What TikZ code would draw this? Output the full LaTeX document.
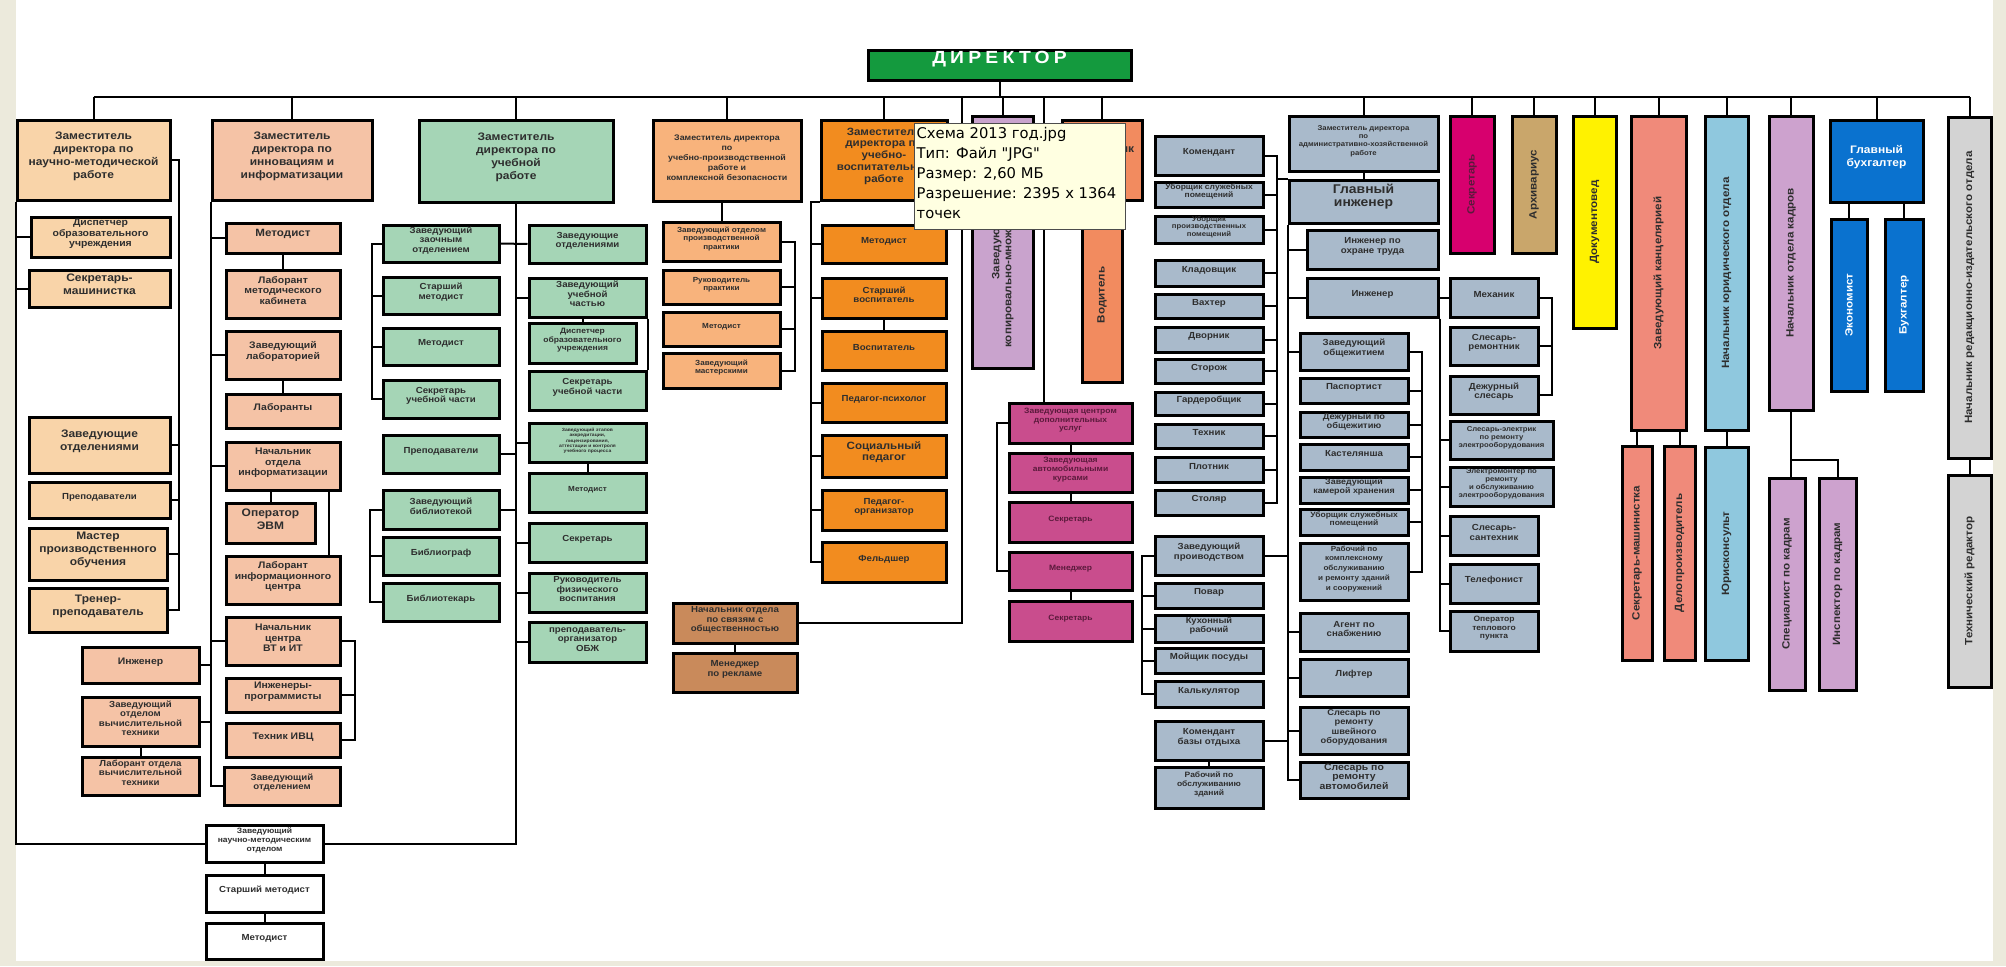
\documentclass[tikz,border=0pt]{standalone}
\usepackage{fontspec}
\setmainfont{Liberation Sans}[FakeStretch=1.1]
\newfontfamily\tipfont{DejaVu Sans}
\usetikzlibrary{fit}

\definecolor{frame}{HTML}{ECEADC}
\definecolor{ink}{HTML}{2E2E2E}
\definecolor{plum}{HTML}{5B1A3C}
\definecolor{dirgreen}{HTML}{149A3E}
\definecolor{apricot}{HTML}{F9D4A9}
\definecolor{peach}{HTML}{F5C3A6}
\definecolor{mint}{HTML}{A5D5B6}
\definecolor{tangerine}{HTML}{F8B37C}
\definecolor{vosporange}{HTML}{F28C1F}
\definecolor{prbrown}{HTML}{C98A5B}
\definecolor{lilac}{HTML}{C9A3CD}
\definecolor{coral}{HTML}{F28B5F}
\definecolor{berry}{HTML}{C94D8D}
\definecolor{steel}{HTML}{A9BACB}
\definecolor{crimson}{HTML}{D7006E}
\definecolor{khaki}{HTML}{C9A66B}
\definecolor{lemon}{HTML}{FFF200}
\definecolor{salmonred}{HTML}{F08A7A}
\definecolor{sky}{HTML}{8FC8DE}
\definecolor{orchid}{HTML}{CDA2CE}
\definecolor{azure}{HTML}{0A72CF}
\definecolor{silver}{HTML}{D3D3D3}
\definecolor{tipfill}{HTML}{FFFFE1}

\tikzset{
bx/.style={draw=black, line width=1.5mm, inner sep=0pt, align=center, text=ink},
ln/.style={line width=1mm},
txtL/.style={font=\fontsize{15.5}{18.5}\selectfont\bfseries},
txtM/.style={font=\fontsize{13.5}{15}\selectfont\bfseries},
txtS/.style={font=\fontsize{12.5}{13.5}\selectfont\bfseries},
txtT/.style={font=\fontsize{10.5}{12}\selectfont\bfseries},
txtX/.style={font=\fontsize{6.5}{7.8}\selectfont\bfseries},
txtB/.style={font=\fontsize{11}{12.5}\selectfont\bfseries},
vlab/.style={rotate=90, font=\fontsize{15}{17}\selectfont\bfseries, text=ink},
tipbox/.style={draw=black!70, line width=0.5mm, fill=tipfill, inner sep=0pt},
tiptext/.style={anchor=north west, inner sep=0pt, align=left, text=black, font=\tipfont\fontsize{21}{28.5}\selectfont}
}

\begin{document}
\begin{tikzpicture}[x=0.5mm,y=-0.5mm]
\useasboundingbox (0,0) rectangle (2006,966);
\fill[frame] (0,0) rectangle (2006,966);
\fill[white] (16,0) rectangle (1993,961);

\node[bx, fill=dirgreen, text=white, fit={(868,50)(1131,80)}, font=\fontsize{25}{27}\selectfont\bfseries\addfontfeatures{LetterSpace=24}] (dir) {ДИРЕКТОР};

% nauchno-metodicheskaya
\node[bx, fill=apricot, txtL, fit={(17,120)(170,200)}] (zNM) {Заместитель\\директора по\\научно-методической\\работе};
\node[bx, fill=apricot, txtM, fit={(31,217)(170,257)}] (dispA) {Диспетчер\\образовательного\\учреждения};
\node[bx, fill=apricot, txtL, fit={(29,270)(170,307)}] (sekrMash) {Секретарь-\\машинистка};
\node[bx, fill=apricot, txtL, fit={(29,417)(170,473)}] (zavOtdA) {Заведующие\\отделениями};
\node[bx, fill=apricot, txtS, fit={(29,482)(170,518)}] (prepA) {Преподаватели};
\node[bx, fill=apricot, txtL, fit={(29,528)(167,580)}] (masterA) {Мастер\\производственного\\обучения};
\node[bx, fill=apricot, txtL, fit={(29,588)(167,632)}] (trenerA) {Тренер-\\преподаватель};

% innovacii
\node[bx, fill=peach, txtL, fit={(212,120)(372,200)}] (zIN) {Заместитель\\директора по\\инновациям и\\информатизации};
\node[bx, fill=peach, font=\fontsize{15}{16}\selectfont\bfseries, fit={(226,223)(340,253)}] (metB) {Методист};
\node[bx, fill=peach, txtM, fit={(226,270)(340,318)}] (labMK) {Лаборант\\методического\\кабинета};
\node[bx, fill=peach, txtM, fit={(226,331)(340,379)}] (zavLab) {Заведующий\\лабораторией};
\node[bx, fill=peach, txtM, fit={(226,394)(340,428)}] (labs) {Лаборанты};
\node[bx, fill=peach, txtM, fit={(226,442)(340,490)}] (nachInf) {Начальник\\отдела\\информатизации};
\node[bx, fill=peach, txtL, fit={(226,503)(315,543)}] (operEVM) {Оператор\\ЭВМ};
\node[bx, fill=peach, txtM, fit={(226,556)(340,604)}] (labIC) {Лаборант\\информационного\\центра};
\node[bx, fill=peach, txtM, fit={(226,617)(340,665)}] (nachVT) {Начальник\\центра\\ВТ и ИТ};
\node[bx, fill=peach, txtM, fit={(226,678)(340,712)}] (ingProg) {Инженеры-\\программисты};
\node[bx, fill=peach, txtM, fit={(226,723)(340,757)}] (tehIVC) {Техник ИВЦ};
\node[bx, fill=peach, txtS, fit={(224,767)(340,805)}] (zavOtdB) {Заведующий\\отделением};
\node[bx, fill=peach, txtM, fit={(82,647)(199,683)}] (ingB) {Инженер};
\node[bx, fill=peach, txtS, fit={(82,697)(199,746)}] (zavVT) {Заведующий\\отделом\\вычислительной\\техники};
\node[bx, fill=peach, txtS, fit={(82,757)(199,795)}] (labVT) {Лаборант отдела\\вычислительной\\техники};
\node[bx, fill=white, txtB, fit={(206,825)(323,862)}] (zavNMO) {Заведующий\\научно-методическим\\отделом};
\node[bx, fill=white, txtS, fit={(206,875)(323,912)}] (stMetW) {Старший методист};
\node[bx, fill=white, txtS, fit={(206,923)(323,959)}] (metW) {Методист};

% uchebnaya rabota
\node[bx, fill=mint, txtL, fit={(419,120)(613,202)}] (zUR) {Заместитель\\директора по\\учебной\\работе};
\node[bx, fill=mint, txtS, fit={(383,225)(499,262)}] (zaoch) {Заведующий\\заочным\\отделением};
\node[bx, fill=mint, txtS, fit={(383,277)(499,314)}] (stMetC) {Старший\\методист};
\node[bx, fill=mint, txtS, fit={(383,328)(499,365)}] (metC) {Методист};
\node[bx, fill=mint, txtS, fit={(383,380)(499,418)}] (sekrUchL) {Секретарь\\учебной части};
\node[bx, fill=mint, txtS, fit={(383,435)(499,473)}] (prepC) {Преподаватели};
\node[bx, fill=mint, txtS, fit={(383,490)(499,529)}] (zavBib) {Заведующий\\библиотекой};
\node[bx, fill=mint, txtS, fit={(383,537)(499,575)}] (bibliograf) {Библиограф};
\node[bx, fill=mint, txtS, fit={(383,583)(499,621)}] (bibliotekar) {Библиотекарь};
\node[bx, fill=mint, txtS, fit={(529,225)(646,263)}] (zavOtdC) {Заведующие\\отделениями};
\node[bx, fill=mint, txtS, fit={(529,278)(646,317)}] (zavUch) {Заведующий\\учебной\\частью};
\node[bx, fill=mint, font=\fontsize{11}{12}\selectfont\bfseries, fit={(529,323)(636,363)}] (dispC) {Диспетчер\\образовательного\\учреждения};
\node[bx, fill=mint, txtS, fit={(529,371)(646,410)}] (sekrUchR) {Секретарь\\учебной части};
\node[bx, fill=mint, txtX, fit={(529,423)(646,462)}] (zavEtap) {Заведующий этапов\\аккредитации,\\лицензирования,\\аттестации и контроля\\учебного процесса};
\node[bx, fill=mint, txtT, fit={(529,473)(646,512)}] (metC2) {Методист};
\node[bx, fill=mint, txtS, fit={(529,523)(646,562)}] (sekrC) {Секретарь};
\node[bx, fill=mint, txtS, fit={(529,573)(646,612)}] (rukFiz) {Руководитель\\физического\\воспитания};
\node[bx, fill=mint, txtS, fit={(529,622)(646,662)}] (prepOBZ) {преподаватель-\\организатор\\ОБЖ};

% uchebno-proizvodstvennaya
\node[bx, fill=tangerine, font=\fontsize{11.5}{14.5}\selectfont\bfseries, fit={(653,120)(801,201)}] (zUP) {Заместитель директора\\по\\учебно-производственной\\работе и\\комплексной безопасности};
\node[bx, fill=tangerine, txtT, fit={(663,222)(780,261)}] (zavPP) {Заведующий отделом\\производственной\\практики};
\node[bx, fill=tangerine, txtT, fit={(663,270)(780,304)}] (rukPr) {Руководитель\\практики};
\node[bx, fill=tangerine, txtT, fit={(663,312)(780,346)}] (metD) {Методист};
\node[bx, fill=tangerine, txtT, fit={(663,353)(780,388)}] (zavMast) {Заведующий\\мастерскими};

% uchebno-vospitatelnaya
\node[bx, fill=vosporange, font=\fontsize{15}{17}\selectfont\bfseries, fit={(821,120)(947,200)}] (zUV) {Заместитель\\директора по\\учебно-\\воспитательной\\работе};
\node[bx, fill=vosporange, txtS, fit={(822,225)(946,263)}] (metE) {Методист};
\node[bx, fill=vosporange, txtS, fit={(822,278)(946,318)}] (stVosp) {Старший\\воспитатель};
\node[bx, fill=vosporange, txtS, fit={(822,331)(946,370)}] (vosp) {Воспитатель};
\node[bx, fill=vosporange, txtS, fit={(822,383)(946,422)}] (pedPsy) {Педагог-психолог};
\node[bx, fill=vosporange, font=\fontsize{15}{16.5}\selectfont\bfseries, fit={(822,435)(946,477)}] (socPed) {Социальный\\педагог};
\node[bx, fill=vosporange, txtS, fit={(822,490)(946,530)}] (pedOrg) {Педагог-\\организатор};
\node[bx, fill=vosporange, txtS, fit={(822,542)(946,582)}] (feld) {Фельдшер};
\node[bx, fill=prbrown, txtS, fit={(673,603)(797,643)}] (nachPR) {Начальник отдела\\по связям с\\общественностью};
\node[bx, fill=prbrown, txtS, fit={(673,653)(797,692)}] (menRek) {Менеджер\\по рекламе};

% kopirovalnoe, voditel, uslugi
\node[bx, fill=lilac, fit={(972,116)(1033,368)}, label={[vlab, align=center]center:Заведующий\\копировально-множительным бюро}] (zavKop) {};
\node[bx, fill=coral, fit={(1062,120)(1142,200)}, txtL] (topOr) {Начальник\\гаража};
\node[bx, fill=coral, fit={(1082,208)(1122,382)}, label={[vlab]center:Водитель}] (vod) {};
\node[bx, fill=berry, text=plum, txtB, fit={(1009,403)(1132,443)}] (mg1) {Заведующая центром\\дополнительных\\услуг};
\node[bx, fill=berry, text=plum, txtB, fit={(1009,453)(1132,492)}] (mg2) {Заведующая\\автомобильными\\курсами};
\node[bx, fill=berry, text=plum, txtB, fit={(1009,502)(1132,542)}] (mg3) {Секретарь};
\node[bx, fill=berry, text=plum, txtB, fit={(1009,552)(1132,590)}] (mg4) {Менеджер};
\node[bx, fill=berry, text=plum, txtB, fit={(1009,601)(1132,641)}] (mg5) {Секретарь};

% hozyaistvennaya chast
\node[bx, fill=steel, txtS, fit={(1155,136)(1263,175)}] (kom) {Комендант};
\node[bx, fill=steel, font=\fontsize{11}{11.5}\selectfont\bfseries, fit={(1155,182)(1263,207)}] (ubS) {Уборщик служебных\\помещений};
\node[bx, fill=steel, font=\fontsize{10}{10.5}\selectfont\bfseries, fit={(1155,216)(1263,243)}] (ubP) {Уборщик\\производственных\\помещений};
\node[bx, fill=steel, txtS, fit={(1155,260)(1263,286)}] (klad) {Кладовщик};
\node[bx, fill=steel, txtS, fit={(1155,294)(1263,318)}] (vaht) {Вахтер};
\node[bx, fill=steel, txtS, fit={(1155,327)(1263,352)}] (dvor) {Дворник};
\node[bx, fill=steel, txtS, fit={(1155,359)(1263,383)}] (stor) {Сторож};
\node[bx, fill=steel, txtS, fit={(1155,392)(1263,415)}] (gard) {Гардеробщик};
\node[bx, fill=steel, txtS, fit={(1155,424)(1263,448)}] (teh) {Техник};
\node[bx, fill=steel, txtS, fit={(1155,457)(1263,482)}] (plot) {Плотник};
\node[bx, fill=steel, txtS, fit={(1155,490)(1263,515)}] (stol) {Столяр};
\node[bx, fill=steel, txtS, fit={(1155,536)(1263,575)}] (zavPr) {Заведующий\\проиводством};
\node[bx, fill=steel, txtS, fit={(1155,583)(1263,608)}] (povar) {Повар};
\node[bx, fill=steel, font=\fontsize{12}{12.5}\selectfont\bfseries, fit={(1155,615)(1263,642)}] (kuh) {Кухонный\\рабочий};
\node[bx, fill=steel, txtS, fit={(1155,648)(1263,673)}] (moy) {Мойщик посуды};
\node[bx, fill=steel, txtS, fit={(1155,681)(1263,707)}] (kalk) {Калькулятор};
\node[bx, fill=steel, txtS, fit={(1155,721)(1263,760)}] (komBO) {Комендант\\базы отдыха};
\node[bx, fill=steel, txtB, fit={(1155,767)(1263,808)}] (rabBO) {Рабочий по\\обслуживанию\\зданий};
\node[bx, fill=steel, font=\fontsize{10}{12}\selectfont\bfseries, fit={(1289,116)(1438,171)}] (zAHR) {Заместитель директора\\по\\административно-хозяйственной\\работе};
\node[bx, fill=steel, font=\fontsize{18}{19}\selectfont\bfseries, fit={(1289,180)(1438,223)}] (glIng) {Главный\\инженер};
\node[bx, fill=steel, txtS, fit={(1307,230)(1438,269)}] (ingOT) {Инженер по\\охране труда};
\node[bx, fill=steel, txtS, fit={(1307,278)(1438,317)}] (ing) {Инженер};
\node[bx, fill=steel, txtS, fit={(1300,333)(1408,370)}] (zavObsh) {Заведующий\\общежитием};
\node[bx, fill=steel, txtS, fit={(1300,378)(1408,403)}] (pasp) {Паспортист};
\node[bx, fill=steel, font=\fontsize{12}{12.5}\selectfont\bfseries, fit={(1300,412)(1408,437)}] (dezhObsh) {Дежурный по\\общежитию};
\node[bx, fill=steel, txtS, fit={(1300,444)(1408,470)}] (kast) {Кастелянша};
\node[bx, fill=steel, font=\fontsize{11.5}{12.5}\selectfont\bfseries, fit={(1300,477)(1408,503)}] (zavKam) {Заведующий\\камерой хранения};
\node[bx, fill=steel, font=\fontsize{11}{11.5}\selectfont\bfseries, fit={(1300,509)(1408,535)}] (ubS2) {Уборщик служебных\\помещений};
\node[bx, fill=steel, font=\fontsize{10.5}{14}\selectfont\bfseries, fit={(1300,543)(1408,600)}] (rabKO) {Рабочий по\\комплексному\\обслуживанию\\и ремонту зданий\\и сооружений};
\node[bx, fill=steel, txtS, fit={(1300,613)(1408,651)}] (agent) {Агент по\\снабжению};
\node[bx, fill=steel, txtS, fit={(1300,659)(1408,696)}] (lift) {Лифтер};
\node[bx, fill=steel, font=\fontsize{12}{13.5}\selectfont\bfseries, fit={(1300,707)(1408,754)}] (slShv) {Слесарь по\\ремонту\\швейного\\оборудования};
\node[bx, fill=steel, font=\fontsize{13.5}{13}\selectfont\bfseries, fit={(1300,762)(1408,798)}] (slAvto) {Слесарь по\\ремонту\\автомобилей};
\node[bx, fill=steel, txtS, fit={(1450,278)(1538,317)}] (meh) {Механик};
\node[bx, fill=steel, txtS, fit={(1450,327)(1538,365)}] (slRem) {Слесарь-\\ремонтник};
\node[bx, fill=steel, txtS, fit={(1450,376)(1538,414)}] (dezhSl) {Дежурный\\слесарь};
\node[bx, fill=steel, font=\fontsize{10}{11.5}\selectfont\bfseries, fit={(1450,421)(1553,459)}] (slEl) {Слесарь-электрик\\по ремонту\\электрооборудования};
\node[bx, fill=steel, font=\fontsize{10}{11.5}\selectfont\bfseries, fit={(1450,467)(1553,506)}] (elMont) {Электромонтер по\\ремонту\\и обслуживанию\\электрооборудования};
\node[bx, fill=steel, txtS, fit={(1450,516)(1538,555)}] (slSant) {Слесарь-\\сантехник};
\node[bx, fill=steel, txtS, fit={(1450,564)(1538,603)}] (telef) {Телефонист};
\node[bx, fill=steel, txtB, fit={(1450,611)(1538,651)}] (operTP) {Оператор\\теплового\\пункта};

% pravaya chast
\node[bx, fill=crimson, fit={(1450,116)(1494,253)}, label={[vlab, text=plum]center:Секретарь}] (sekr) {};
\node[bx, fill=khaki, fit={(1512,116)(1556,253)}, label={[vlab]center:Архивариус}] (arh) {};
\node[bx, fill=lemon, fit={(1573,116)(1616,328)}, label={[vlab]center:Документовед}] (dok) {};
\node[bx, fill=salmonred, fit={(1631,116)(1686,430)}, label={[vlab]center:Заведующий канцелярией}] (kanc) {};
\node[bx, fill=salmonred, fit={(1622,446)(1652,660)}, label={[vlab]center:Секретарь-машинистка}] (sekrM2) {};
\node[bx, fill=salmonred, fit={(1664,446)(1695,660)}, label={[vlab]center:Делопроизводитель}] (delo) {};
\node[bx, fill=sky, fit={(1705,116)(1748,430)}, label={[vlab]center:Начальник юридического отдела}] (jur) {};
\node[bx, fill=sky, fit={(1705,447)(1748,660)}, label={[vlab]center:Юрисконсульт}] (jurK) {};
\node[bx, fill=orchid, fit={(1769,116)(1813,410)}, label={[vlab]center:Начальник отдела кадров}] (kadr) {};
\node[bx, fill=orchid, fit={(1769,478)(1805,690)}, label={[vlab]center:Специалист по кадрам}] (spec) {};
\node[bx, fill=orchid, fit={(1819,478)(1856,690)}, label={[vlab]center:Инспектор по кадрам}] (insp) {};
\node[bx, fill=azure, text=white, txtL, fit={(1830,120)(1923,202)}] (glBuh) {Главный\\бухгалтер};
\node[bx, fill=azure, fit={(1831,219)(1867,391)}, label={[vlab, text=white]center:Экономист}] (econ) {};
\node[bx, fill=azure, fit={(1885,219)(1923,391)}, label={[vlab, text=white]center:Бухгалтер}] (buh) {};
\node[bx, fill=silver, fit={(1948,117)(1991,458)}, label={[vlab]center:Начальник редакционно-издательского отдела}] (red) {};
\node[bx, fill=silver, fit={(1948,475)(1991,687)}, label={[vlab]center:Технический редактор}] (tehRed) {};

% shina
\coordinate (busY) at (0,97);
\coordinate (prTap) at (962,97);
\coordinate (mgTap) at (1044,97);
\draw[ln] (zNM.north |- busY) -- (red.north |- busY);
\draw[ln] (dir.south) -- (dir.south |- busY);
\foreach \n in {zNM,zIN,zUR,zUP,zUV,zavKop,topOr,zAHR,sekr,arh,dok,kanc,jur,kadr,glBuh,red}
  \draw[ln] (\n.north) -- (\n.north |- busY);

% svyazi levoj chasti
\draw[ln] (zNM.east) -- ++(7,0) coordinate (rA) |- (trenerA.east);
\foreach \n in {zavOtdA,prepA,masterA} \draw[ln] (\n.east) -- (\n.east -| rA);
\draw[ln] (zNM.south west) |- (zavNMO.west);
\foreach \n in {dispA,sekrMash} \draw[ln] (\n.west) -- (\n.west -| zNM.west);
\draw[ln] (zIN.south west) |- (zavOtdB.west);
\foreach \n in {metB,zavLab,nachInf,nachVT} \draw[ln] (\n.west) -- (\n.west -| zIN.west);
\foreach \n in {ingB,zavVT} \draw[ln] (\n.east) -- (\n.east -| zIN.west);
\draw[ln] (metB.south) -- (labMK.north);
\draw[ln] (zavLab.south) -- (labs.north);
\draw[ln] (operEVM.north) -- (operEVM.north |- nachInf.south);
\draw[ln] ([xshift=-6.5mm]nachInf.south east) -- ([xshift=-6.5mm]labIC.north east);
\draw[ln] (zavVT.south) -- (labVT.north);
\draw[ln] (nachVT.east) -- ++(13,0) coordinate (rB) |- (tehIVC.east);
\draw[ln] (ingProg.east) -- (ingProg.east -| rB);
\draw[ln] (zavNMO.south) -- (stMetW.north);
\draw[ln] (stMetW.south) -- (metW.north);

\draw[ln] (zUR.south) |- (zavNMO.east);
\draw[ln] (zaoch.east) -- (zavOtdC.west);
\foreach \n in {zavUch,zavEtap,sekrC,rukFiz,prepOBZ} \draw[ln] (\n.west) -- (\n.west -| zUR.south);
\foreach \n in {prepC,zavBib} \draw[ln] (\n.east) -- (\n.east -| zUR.south);
\draw[ln] (zaoch.west) -- ++(-10,0) coordinate (lC) |- (sekrUchL.west);
\foreach \n in {stMetC,metC} \draw[ln] (\n.west) -- (\n.west -| lC);
\draw[ln] (zavBib.west) -- ++(-12,0) coordinate (lBib) |- (bibliotekar.west);
\draw[ln] (bibliograf.west) -- (bibliograf.west -| lBib);
\draw[ln] (dispC.north) -- (dispC.north |- zavUch.south);
\draw[ln] (zavEtap.south) -- (metC2.north);
\draw[ln] (zavUch.south east) -- (sekrUchR.north east);

\draw[ln] (zavPP.north) -- (zavPP.north |- zUP.south);
\draw[ln] (zavPP.east) -- ++(13,0) coordinate (rD) |- (zavMast.east);
\foreach \n in {rukPr,metD} \draw[ln] (\n.east) -- (\n.east -| rD);

\draw[ln] (zUV.south west) -- ++(-9,0) coordinate (lE) |- (feld.west);
\foreach \n in {metE,stVosp,pedPsy,socPed,pedOrg} \draw[ln] (\n.west) -- (\n.west -| lE);
\draw[ln] (stVosp.south) -- (vosp.north);
\draw[ln] (prTap) |- (nachPR.east);
\draw[ln] (nachPR.south) -- (menRek.north);

% svyazi pravoj chasti
\draw[ln] (mgTap) -- (mgTap |- mg1.north);
\draw[ln] (mg1.west) -- ++(-11,0) |- (mg4.west);
\draw[ln] (mg1.south) -- (mg2.north);
\draw[ln] (mg2.south) -- (mg3.north);
\draw[ln] (mg4.south) -- (mg5.north);
\draw[ln] (topOr.south) -- (vod.north);

\draw[ln] (zAHR.south) -- (glIng.north);
\draw[ln] (kom.east) -- ++(12,0) coordinate (rK) |- (stol.east);
\foreach \n in {ubS,ubP,klad,vaht,dvor,stor,gard,teh,plot} \draw[ln] (\n.east) -- (\n.east -| rK);
\draw[ln] (glIng.north west) -- (glIng.north west -| rK);
\draw[ln] (glIng.south west) |- (slAvto.west);
\foreach \n in {ingOT,ing,zavObsh,agent,lift,slShv} \draw[ln] (\n.west) -- (\n.west -| glIng.west);
\foreach \n in {zavPr,komBO} \draw[ln] (\n.east) -- (\n.east -| glIng.west);
\draw[ln] (zavPr.west) -- ++(-12,0) coordinate (lP) |- (kalk.west);
\foreach \n in {povar,kuh,moy} \draw[ln] (\n.west) -- (\n.west -| lP);
\draw[ln] (komBO.south) -- (rabBO.north);
\draw[ln] (zavObsh.east) -- ++(12,0) coordinate (rO) |- (rabKO.east);
\foreach \n in {pasp,dezhObsh,kast,zavKam,ubS2} \draw[ln] (\n.east) -- (\n.east -| rO);
\draw[ln] (ing.east) -- (meh.west);
\draw[ln] (ing.south east) |- (operTP.west);
\foreach \n in {slEl,elMont,slSant,telef} \draw[ln] (\n.west) -- (\n.west -| ing.east);
\draw[ln] (meh.east) -- ++(12,0) coordinate (rM) |- (dezhSl.east);
\draw[ln] (slRem.east) -- (slRem.east -| rM);

\draw[ln] (sekrM2.north) -- (sekrM2.north |- kanc.south);
\draw[ln] (delo.north) -- (delo.north |- kanc.south);
\draw[ln] (jur.south) -- (jurK.north);
\draw[ln] (kadr.south) -- ++(0,48) coordinate (kb) -| (insp.north);
\draw[ln] (kb) -- (kb |- spec.north);
\draw[ln] (econ.north) -- (econ.north |- glBuh.south);
\draw[ln] (buh.north) -- (buh.north |- glBuh.south);
\draw[ln] (red.south) -- (tehRed.north);

% podskazka
\node[tipbox, fit={(914,123)(1125,229)}] (tip) {};
\node[tiptext] (tipTxt) at ([xshift=1.5mm,yshift=-2.5mm]tip.north west) {Схема 2013 год.jpg\\Тип: Файл "JPG"\\Размер: 2,60 МБ\\Разрешение: 2395 x 1364\\точек};
\end{tikzpicture}
\end{document}
